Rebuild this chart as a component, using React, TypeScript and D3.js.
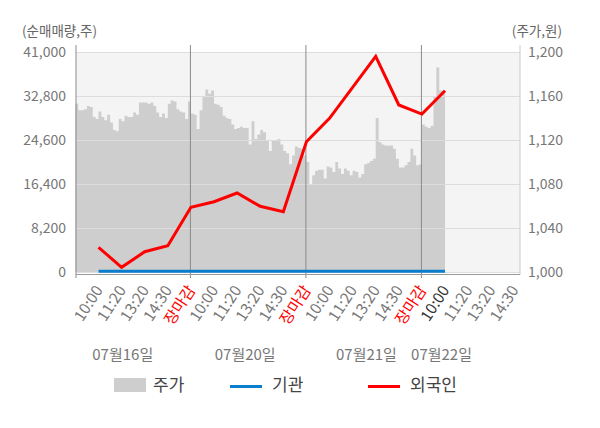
import * as d3 from "d3";

// x-axis tick labels (one slot each)
const timeLabels = [
  "10:00", "11:20", "13:20", "14:30", "장마감",
  "10:00", "11:20", "13:20", "14:30", "장마감",
  "10:00", "11:20", "13:20", "14:30", "장마감",
  "10:00", "11:20", "13:20", "14:30",
];
const currentSlot = 15;
const dateLabels = ["07월16일", "07월20일", "07월21일", "07월22일"];
const dateLabelSlots = [1.05, 6.35, 11.6, 14.85];

// net buy volume (shares), one value per slot
const foreign = [
  4600, 880, 3780, 4900, 12060, 13100, 14720, 12240, 11240, 24280, 28640,
  34420, 40200, 31120, 29440, 33790,
];
const institution = [
  120, 120, 120, 120, 120, 120, 120, 120, 120, 120, 120, 120, 120, 120, 120,
  120,
];

// intraday price (won), 40 samples per full day
const priceDay1 = [
  1153, 1147, 1147, 1148, 1151, 1150, 1141, 1139, 1146, 1141, 1138, 1143,
  1136, 1129, 1128, 1139, 1137, 1142, 1141, 1141, 1145, 1143, 1154, 1154,
  1154, 1153, 1154, 1151, 1145, 1141, 1144, 1140, 1153, 1156, 1155, 1148,
  1146, 1145, 1139, 1155,
];
const priceDay2 = [
  1144, 1143, 1130, 1147, 1160, 1166, 1162, 1165, 1153, 1152, 1150, 1142,
  1140, 1139, 1134, 1130, 1131, 1132, 1131, 1131, 1116, 1137, 1121, 1125,
  1129, 1127, 1119, 1110, 1119, 1119, 1121, 1116, 1110, 1108, 1098, 1106,
  1114, 1113, 1112, 1106,
];
const priceDay3 = [
  1100, 1079, 1088, 1092, 1093, 1093, 1085, 1096, 1095, 1091, 1100, 1094,
  1089, 1094, 1092, 1088, 1092, 1091, 1086, 1089, 1098, 1099, 1101, 1103,
  1140, 1118, 1116, 1115, 1115, 1115, 1112, 1103, 1095, 1095, 1097, 1100,
  1112, 1106, 1097, 1098,
];
const priceDay4 = [1134, 1132, 1131, 1133, 1160, 1186, 1165, 1165];

const volumeTicks = [0, 8200, 16400, 24600, 32800, 41000];
const priceTicks = [1000, 1040, 1080, 1120, 1160, 1200];

const FONT = "'Noto Sans CJK KR', 'Noto Sans', sans-serif";

export default function App() {
  const width = 600;
  const height = 428;
  const plotTop = 52;
  const plotBottom = 272;
  const plotLeft = 76;
  const plotRight = 520;

  const x = d3.scaleLinear().domain([-1, 18.25]).range([75.4, 520.1]);
  const yVol = d3.scaleLinear().domain([0, 41000]).range([plotBottom, plotTop]);
  const yPrice = d3.scaleLinear().domain([1000, 1200]).range([plotBottom, plotTop]);

  // price samples: each day spans 5 slots, 8 samples per slot
  const prices = [...priceDay1, ...priceDay2, ...priceDay3, ...priceDay4];
  const priceData = prices.map((p, i) => ({ s: -1 + i / 8, p }));
  priceData.push({ s: -1 + prices.length / 8, p: prices[prices.length - 1] });

  const area = d3
    .area<{ s: number; p: number }>()
    .x((d) => x(d.s))
    .y0(plotBottom)
    .y1((d) => yPrice(d.p))
    .curve(d3.curveStepAfter);

  const line = d3
    .line<number>()
    .x((_, i) => x(i))
    .y((d) => yVol(d));

  const dayBounds = [4, 9, 14];

  return (
    <svg
      width={width}
      height={height}
      style={{ position: "absolute", left: 0, top: 0, fontFamily: FONT }}
    >
      <rect x={0} y={0} width={width} height={height} fill="#fff" />
      {/* plot background */}
      <rect
        x={plotLeft}
        y={plotTop}
        width={plotRight - plotLeft}
        height={plotBottom - plotTop}
        fill="#f4f4f4"
      />
      {/* price area */}
      <path d={area(priceData) ?? ""} fill="#cecece" />
      {/* grid lines */}
      {volumeTicks.map((t) => (
        <line
          key={t}
          x1={plotLeft}
          x2={plotRight}
          y1={yVol(t) + 0.5}
          y2={yVol(t) + 0.5}
          stroke="#dddddd"
          strokeWidth={1}
        />
      ))}
      {/* day boundaries */}
      {dayBounds.map((d) => (
        <line
          key={d}
          x1={x(d) - 0.5}
          x2={x(d) - 0.5}
          y1={45}
          y2={278}
          stroke="#8a8a8a"
          strokeWidth={1}
        />
      ))}
      {/* axes lines */}
      <line x1={plotLeft} x2={plotLeft} y1={45} y2={278} stroke="#8a8a8a" strokeWidth={1} />
      <line x1={plotRight} x2={plotRight} y1={45} y2={275} stroke="#cccccc" strokeWidth={1} />
      <line
        x1={plotLeft}
        x2={plotRight}
        y1={274.5}
        y2={274.5}
        stroke="#9a9a9a"
        strokeWidth={1}
      />
      {/* institution */}
      <path
        d={line(institution) ?? ""}
        fill="none"
        stroke="#0a7dcc"
        strokeWidth={3}
      />
      {/* foreign */}
      <path
        d={line(foreign) ?? ""}
        fill="none"
        stroke="#ff0000"
        strokeWidth={3}
        strokeLinejoin="miter"
      />
      {/* left axis labels */}
      <text x={22} y={36} fontSize={13.5} fill="#666">
        (순매매량,주)
      </text>
      {volumeTicks.map((t) => (
        <text
          key={t}
          x={66}
          y={yVol(t) + 1.5}
          fontSize={14}
          fill="#777"
          textAnchor="end"
          dominantBaseline="middle"
        >
          {d3.format(",")(t)}
        </text>
      ))}
      {/* right axis labels */}
      <text x={562} y={36} fontSize={13.5} fill="#666" textAnchor="end">
        (주가,원)
      </text>
      {priceTicks.map((t) => (
        <text
          key={t}
          x={528}
          y={yPrice(t) + 1.5}
          fontSize={14}
          fill="#777"
          dominantBaseline="middle"
        >
          {d3.format(",")(t)}
        </text>
      ))}
      {/* x-axis labels */}
      {timeLabels.map((lab, i) => {
        const lx = x(i) + 5;
        const ly = 290;
        const fill =
          lab === "장마감" ? "#ff0000" : i === currentSlot ? "#333" : "#777";
        return (
          <text
            key={i}
            x={lx}
            y={ly}
            fontSize={15.5}
            fill={fill}
            textAnchor="end"
            transform={`rotate(-57 ${lx} ${ly})`}
          >
            {lab}
          </text>
        );
      })}
      {dateLabels.map((lab, i) => (
        <text
          key={lab}
          x={x(dateLabelSlots[i])}
          y={360}
          fontSize={15}
          fill="#777"
          textAnchor="middle"
        >
          {lab}
        </text>
      ))}
      {/* legend */}
      <rect x={114} y={378} width={32} height={14} fill="#cecece" />
      <text x={153} y={391} fontSize={17} fill="#444">
        주가
      </text>
      <line x1={230} x2={262} y1={386.5} y2={386.5} stroke="#0a7dcc" strokeWidth={3} />
      <text x={272} y={391} fontSize={17} fill="#444">
        기관
      </text>
      <line x1={368} x2={400} y1={386.5} y2={386.5} stroke="#ff0000" strokeWidth={3} />
      <text x={410} y={391} fontSize={17} fill="#444">
        외국인
      </text>
    </svg>
  );
}
